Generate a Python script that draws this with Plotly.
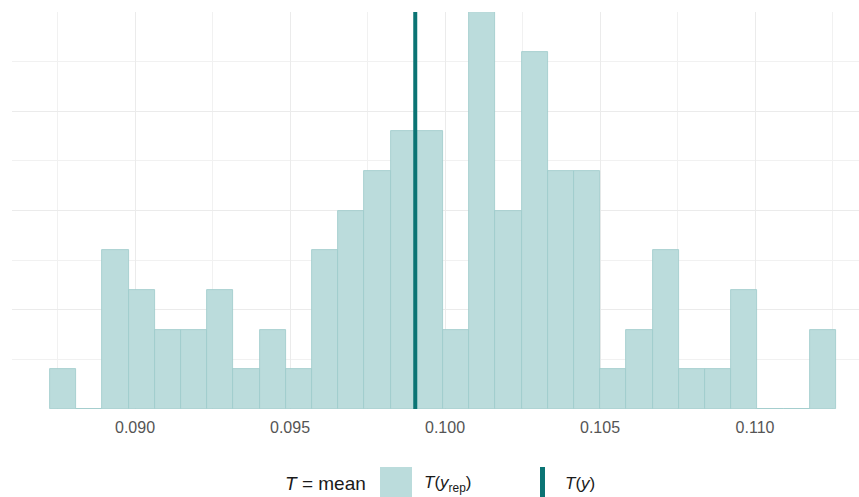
import plotly.graph_objects as go

# Histogram of the replicated test statistic T(y_rep) = mean, 30 equal-width bins
bin_start = 0.0872581
bin_width = 0.00084516
counts = [1, 0, 4, 3, 2, 2, 3, 1, 2, 1,
          4, 5, 6, 7, 7, 2, 10, 5, 9, 6,
          6, 1, 2, 4, 1, 1, 3, 0, 0, 2]
# Observed statistic T(y)
t_obs = 0.09904

tick_vals = [0.090, 0.095, 0.100, 0.105, 0.110]
tick_text = ["0.090", "0.095", "0.100", "0.105", "0.110"]

centers = [bin_start + (i + 0.5) * bin_width for i in range(len(counts))]

FILL = "#bbdcdc"
EDGE = "#9ccaca"
DARK = "#0b7474"
FONT = "Liberation Sans, Arial, Helvetica, sans-serif"

W, H = 859, 497
ML, MR, MT, MB = 12, 0, 12, 88
PW, PH = W - ML - MR, H - MT - MB


def px(xp):
    return (xp - ML) / PW


def py(yp):
    return (H - MB - yp) / PH


fig = go.Figure()
fig.add_trace(go.Bar(
    x=centers, y=counts, width=[bin_width] * len(counts),
    marker=dict(color=FILL, line=dict(color=EDGE, width=0.8)),
    showlegend=False, hoverinfo="x+y",
))
fig.add_trace(go.Scatter(
    x=[t_obs, t_obs], y=[0, max(counts)], mode="lines",
    line=dict(color=DARK, width=4), showlegend=False,
))

fig.update_layout(
    width=W, height=H,
    margin=dict(l=ML, r=MR, t=MT, b=MB),
    paper_bgcolor="white", plot_bgcolor="white",
    font=dict(family=FONT, color="#4d4d4d"),
    bargap=0,
    xaxis=dict(
        range=[0.086032, 0.086032 + PW / 31000.0],
        tickvals=tick_vals, ticktext=tick_text,
        tickfont=dict(size=16, color="#555555"),
        ticklabelstandoff=7,
        showgrid=True, gridcolor="#ebebeb", gridwidth=1,
        minor=dict(dtick=0.0025, tick0=0.0875, showgrid=True,
                   gridcolor="#f1f1f1", gridwidth=1),
        zeroline=False, showline=False, ticks="", ticklen=0,
    ),
    yaxis=dict(
        range=[0, 10], showticklabels=False,
        tick0=0, dtick=2.5,
        showgrid=True, gridcolor="#ebebeb", gridwidth=1,
        minor=dict(dtick=1.25, showgrid=True, gridcolor="#f1f1f1", gridwidth=1),
        zeroline=False, showline=False, ticks="",
    ),
)

# Legend drawn beneath the panel
fig.add_annotation(
    xref="paper", yref="paper", x=px(368), y=py(484),
    xanchor="right", yanchor="middle", showarrow=False,
    text="<i>T</i> = mean", font=dict(size=19, color="#1a1a1a", family=FONT),
)
fig.add_shape(
    type="rect", xref="paper", yref="paper",
    x0=px(380), x1=px(412), y0=py(467), y1=py(500),
    fillcolor=FILL, line=dict(width=0), layer="above",
)
fig.add_annotation(
    xref="paper", yref="paper", x=px(422), y=py(484),
    xanchor="left", yanchor="middle", showarrow=False,
    text="<i>T</i>(<i>y</i><sub>rep</sub>)", font=dict(size=17, color="#1a1a1a", family=FONT),
)
fig.add_shape(
    type="line", xref="paper", yref="paper",
    x0=px(542.5), x1=px(542.5), y0=py(467), y1=py(500),
    line=dict(color=DARK, width=5), layer="above",
)
fig.add_annotation(
    xref="paper", yref="paper", x=px(563), y=py(484),
    xanchor="left", yanchor="middle", showarrow=False,
    text="<i>T</i>(<i>y</i>)", font=dict(size=17, color="#1a1a1a", family=FONT),
)

fig.write_html("out.html")
